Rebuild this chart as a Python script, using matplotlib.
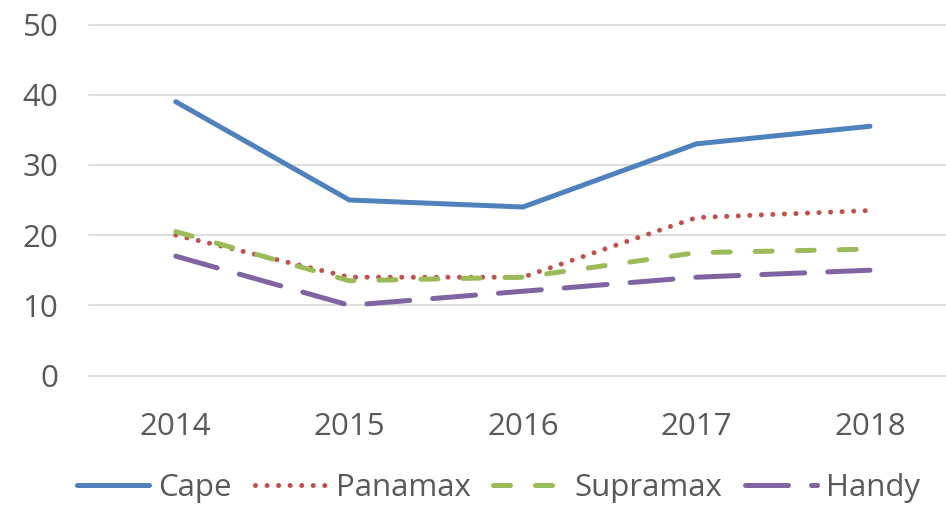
import matplotlib
matplotlib.use('Agg')
import matplotlib.pyplot as plt

# data
years = ['2014', '2015', '2016', '2017', '2018']
cape = [39, 25, 24, 33, 35.5]
panamax = [20, 14, 14, 22.5, 23.5]
supramax = [20.5, 13.5, 14, 17.5, 18]
handy = [17, 10, 12, 14, 15]

plt.rcParams['font.family'] = ['Open Sans', 'DejaVu Sans']
grey = '#595959'

fig = plt.figure(figsize=(9.46, 5.05), dpi=100)
ax = fig.add_axes([89 / 946, (505 - 375.5) / 505, 1 - 89 / 946, 351 / 505])

x = range(len(years))
lw = 3.6
ax.plot(x, cape, color='#4F81BD', lw=lw, solid_capstyle='round', label='Cape')
ax.plot(x, panamax, color='#C0504D', lw=lw, ls=(0, (0.01, 2.3)),
        dash_capstyle='round', label='Panamax')
ax.plot(x, supramax, color='#9BBB59', lw=lw, ls=(0, (3.4, 5.0)),
        dash_capstyle='round', label='Supramax')
ax.plot(x, handy, color='#8064A2', lw=lw, ls=(0, (8.6, 4.6)),
        dash_capstyle='round', label='Handy')

ax.set_ylim(0, 50)
ax.set_xlim(-0.5, (946 - 176) / 173.5)
ax.set_yticks(range(0, 51, 10))
ax.set_xticks(list(x))
ax.set_xticklabels(years)
ax.grid(axis='y', color='#D9D9D9', lw=1.2)
for gl in ax.get_ygridlines():
    gl.set_clip_on(False)
ax.set_axisbelow(True)
for s in ax.spines.values():
    s.set_visible(False)
ax.tick_params(length=0, labelsize=22.5, colors=grey)
ax.tick_params(axis='y', pad=22)
ax.tick_params(axis='x', pad=26)

leg = ax.legend(loc='center', bbox_to_anchor=(0.5 - 0.022, -0.32), ncol=4,
                frameon=False, fontsize=22.5, handlelength=2.3,
                handletextpad=0.3, columnspacing=0.72, borderaxespad=0)
for t in leg.get_texts():
    t.set_color(grey)

fig.savefig('out.png', dpi=100)
